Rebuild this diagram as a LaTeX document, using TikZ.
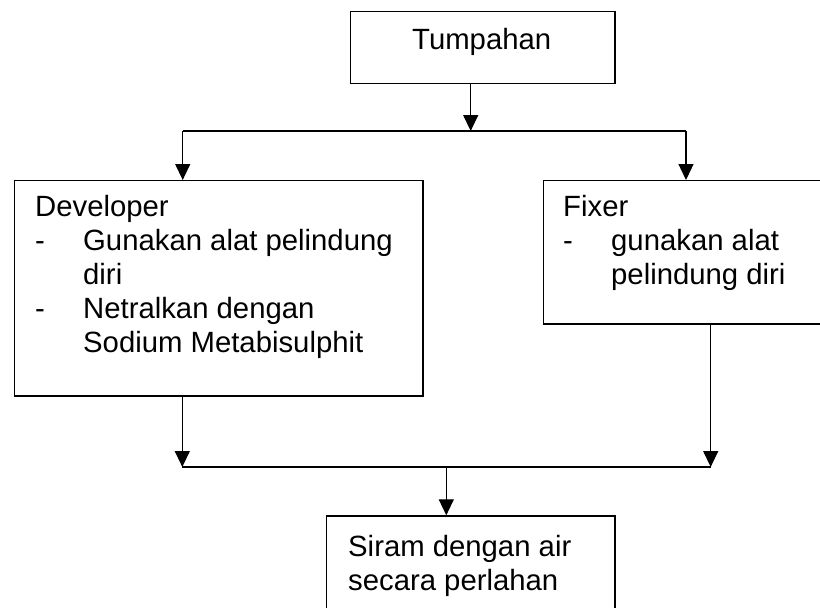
\documentclass[tikz,border=0pt]{standalone}
\usepackage{fontspec}
\setmainfont{Liberation Sans}
\usetikzlibrary{arrows.meta}
\begin{document}
\begin{tikzpicture}[x=1pt,y=-1pt,
  box/.style={draw=black, line width=1.3pt, inner sep=0pt, anchor=north west},
  txt/.style={inner sep=0pt, anchor=base west, font=\fontsize{29.3}{34}\selectfont},
  link/.style={line width=1.3pt},
  arr/.style={line width=1.3pt, -{Triangle[width=15pt,length=16pt]}}]
\useasboundingbox (0,0) rectangle (820,608);

% boxes
\node[box, minimum width=264.3pt, minimum height=71.7pt] (top) at (350,11) {};
\node[box, minimum width=408.3pt, minimum height=215.3pt] (dev) at (14,180) {};
\node[box, minimum width=290pt, minimum height=143.3pt] (fix) at (542.7,180) {};
\node[box, minimum width=288.3pt, minimum height=110pt] (end) at (326,515.3) {};

% texts
\node[txt] (t0) at (412,49) {Tumpahan};
\node[txt] (d0) at (35,216) {Developer};
\node[txt] (d1) at (35,250) {-};
\node[txt] (d2) at (83,250) {Gunakan alat pelindung};
\node[txt] (d3) at (83,284) {diri};
\node[txt] (d4) at (35,318) {-};
\node[txt] (d5) at (83,318) {Netralkan dengan};
\node[txt] (d6) at (83,352) {Sodium Metabisulphit};
\node[txt] (f0) at (563,216) {Fixer};
\node[txt] (f1) at (563,250) {-};
\node[txt] (f2) at (611,250) {gunakan alat};
\node[txt] (f3) at (611,284) {pelindung diri};
\node[txt] (e0) at (348,556) {Siram dengan air};
\node[txt] (e1) at (348,590) {secara perlahan};

% junction points
\coordinate (split) at (470.7,131);
\coordinate (sl) at (182.7,131);
\coordinate (sr) at (686,131);
\coordinate (ml) at (182.3,467);
\coordinate (mr) at (710.7,467);
\coordinate (merge) at (446.3,467);

% connectors
\draw[arr] (split |- top.south) -- (split);
\draw[link] (sl) -- (sr);
\draw[arr] (sl) -- (sl |- dev.north);
\draw[arr] (sr) -- (sr |- fix.north);
\draw[arr] (ml |- dev.south) -- (ml);
\draw[arr] (mr |- fix.south) -- (mr);
\draw[link] (ml) -- (mr);
\draw[arr] (merge) -- (merge |- end.north);
\end{tikzpicture}
\end{document}
